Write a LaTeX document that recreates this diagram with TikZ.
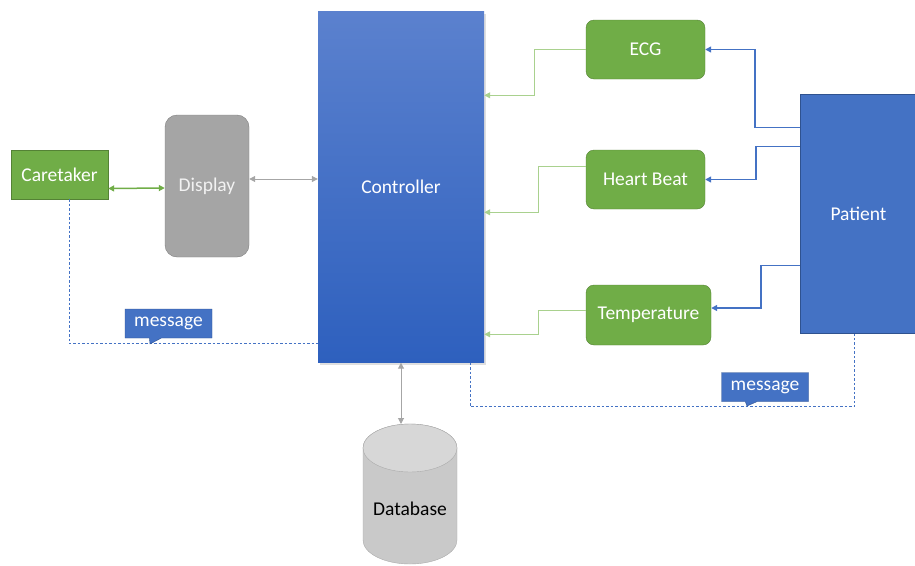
\documentclass[tikz,border=0pt]{standalone}
\usepackage{fontspec}
\setmainfont{Carlito}
\usetikzlibrary{arrows.meta, shapes.callouts, shadows}

\definecolor{boxgreen}{HTML}{70AD47}
\definecolor{boxgreenline}{HTML}{548235}
\definecolor{feedgreen}{HTML}{A9D18E}
\definecolor{boxblue}{HTML}{4472C4}
\definecolor{boxblueline}{HTML}{2F528F}
\definecolor{dispgray}{HTML}{A5A5A5}
\definecolor{displine}{HTML}{7F7F7F}
\definecolor{dbgray}{HTML}{C9C9C9}
\definecolor{dbline}{HTML}{ABABAB}

\tikzset{
  sensor/.style={draw=boxgreenline, fill=boxgreen, text=white, rounded corners=8pt,
    minimum width=119, minimum height=59},
  feed/.style={feedgreen, line width=1pt, -{Triangle[length=6pt, width=6pt]}},
  probe/.style={boxblue, line width=1.5pt, -{Triangle[length=6pt, width=6pt]}},
  msgline/.style={boxblue, line width=1pt, dash pattern=on 2.5pt off 2pt},
  msgbox/.style={rectangle callout, draw=boxblueline, fill=boxblue, text=white,
    minimum width=87, minimum height=29, inner sep=0pt, callout pointer width=12pt}
}

\begin{document}
\begin{tikzpicture}[x=1pt, y=-1pt, every node/.style={font=\fontsize{19.5}{23}\selectfont}]
  \useasboundingbox (0,0) rectangle (915,565);

  % Main blocks
  \node[draw=displine, fill=dispgray, text=white!90!gray, rounded corners=12pt,
    minimum width=84, minimum height=142] (disp) at (207,186) {Display};
  \node[draw=boxgreenline, fill=boxgreen, text=white, minimum width=97,
    minimum height=49] (care) at (59.5,174.5) {Caretaker};
  \node[top color={rgb,255:red,91;green,129;blue,206}, bottom color={rgb,255:red,46;green,96;blue,190},
    draw=none, text=white, minimum width=166, minimum height=351,
    drop shadow={shadow xshift=2pt, shadow yshift=-2pt, opacity=0.25}] (ctrl) at (401,187) {Controller};
  \node[draw=boxblueline, fill=boxblue, text=white, minimum width=117,
    minimum height=239] (pat) at (858.5,214) {Patient};

  % Sensors
  \node[sensor] (ecg) at (645.5,49.5) {ECG};
  \node[sensor] (hb) at (645.5,179.5) {Heart Beat};
  \node[sensor, minimum width=125, minimum height=60] (temp) at (648.5,315) {Temperature};

  % Database
  \draw[dbline, fill=dbgray] (363,448) -- (363,540) arc[start angle=180, end angle=0, x radius=47, y radius=24]
    -- (457,448) arc[start angle=0, end angle=-180, x radius=47, y radius=24] -- cycle;
  \draw[dbline, fill=dbgray!75!white] (410,448) ellipse [x radius=47, y radius=24];
  \coordinate (dbtop) at (410,424);
  \node[text=black] (db) at (410,509) {Database};

  % Sensor -> controller
  \draw[feed] (ecg.west) -- ++(-51,0) |- ([yshift=-84pt]ctrl.north east);
  \draw[feed] ([yshift=13pt]hb.west) -- ++(-47,0) |- ([yshift=-201pt]ctrl.north east);
  \draw[feed] ([yshift=5pt]temp.west) -- ++(-47,0) |- ([yshift=-323pt]ctrl.north east);

  % Patient -> sensors
  \draw[probe] ([yshift=-33pt]pat.north west) -- ++(-45,0) |- (ecg.east);
  \draw[probe] ([yshift=-52pt]pat.north west) -- ++(-44,0) |- (hb.east);
  \draw[probe] ([yshift=-171pt]pat.north west) -- ++(-39,0) |- ([yshift=7pt]temp.east);

  % Links
  \draw[boxgreen, line width=1.5pt, {Triangle[length=6pt, width=6pt]}-{Triangle[length=6pt, width=6pt]}]
    ([yshift=-14pt]care.east) -- ([yshift=-2pt]disp.west);
  \draw[gray!70, line width=1pt, {Triangle[length=6pt, width=6pt]}-{Triangle[length=6pt, width=6pt]}]
    ([yshift=7pt]disp.east) -- ([yshift=8pt]ctrl.west);
  \draw[gray!70, line width=1pt, {Triangle[length=6pt, width=6pt]}-{Triangle[length=6pt, width=6pt]}]
    (ctrl.south) -- (ctrl.south |- dbtop);

  % Messages
  \draw[msgline] ([xshift=9.5pt]care.south) |- ([yshift=19pt]ctrl.south west) coordinate (msgA);
  \draw[msgline] ([xshift=-14pt]ctrl.south east) -- ++(0,44) coordinate (msgB) -| ([xshift=-4pt]pat.south);
  \node[msgbox, callout absolute pointer={(150,344)}] (msg1) at (168.5,323.5) {message};
  \node[msgbox, callout absolute pointer={(747,406)}] (msg2) at (765,387) {message};
\end{tikzpicture}
\end{document}
